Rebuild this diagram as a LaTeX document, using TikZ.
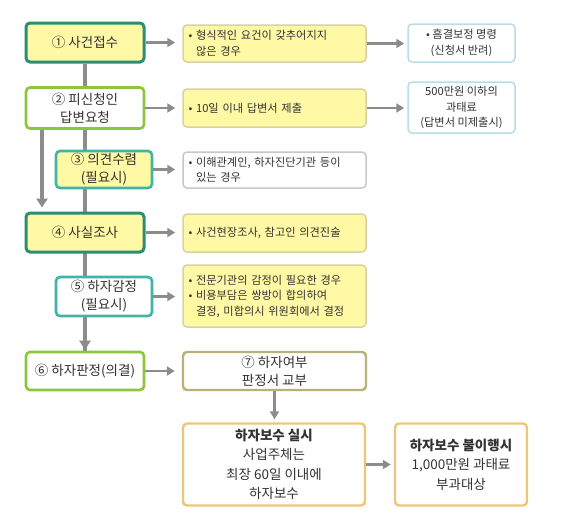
\documentclass[tikz,border=0pt]{standalone}
\usepackage{fontspec}
\setmainfont{Noto Sans CJK KR}
\usetikzlibrary{arrows.meta, backgrounds}
\definecolor{tealdark}{HTML}{2A8F72}
\definecolor{greenlime}{HTML}{8CC63E}
\definecolor{tealcyan}{HTML}{3FB5A8}
\definecolor{yellowfill}{HTML}{FFF8A4}
\definecolor{khakiline}{HTML}{D6D2A4}
\definecolor{greyline}{HTML}{C8C8C8}
\definecolor{blueline}{HTML}{B9DDE8}
\definecolor{oliveline}{HTML}{B8B27A}
\definecolor{goldline}{HTML}{EBC777}
\definecolor{arrowgrey}{HTML}{8C8C8C}
\definecolor{textgrey}{HTML}{333333}
\newcommand{\bulletgap}{\hphantom{•~}}

\begin{document}
\begin{tikzpicture}[x=1pt, y=-1pt,
  box/.style={draw, rounded corners=4pt, align=center, text=textgrey, inner sep=2pt,
    font=\fontsize{13.5}{18}\selectfont},
  mainsize/.style={minimum width=118pt, minimum height=39pt},
  subsize/.style={minimum width=96pt, minimum height=37pt},
  stepA/.style={box, mainsize, draw=tealdark, line width=3pt, fill=yellowfill},
  stepB/.style={box, mainsize, draw=greenlime, line width=2.6pt, fill=white},
  stepC/.style={box, subsize, draw=tealcyan, line width=2.6pt, fill=yellowfill},
  stepD/.style={box, subsize, draw=tealcyan, line width=2.6pt, fill=white},
  result/.style={box, draw=goldline, line width=2.4pt, fill=white, minimum height=82pt,
    font=\fontsize{13.5}{19.5}\selectfont},
  note/.style={draw=khakiline, line width=1.5pt, fill=yellowfill, rounded corners=4pt,
    text width=172pt, inner xsep=5.5pt, inner ysep=3pt, align=left, minimum height=37pt,
    text=textgrey, font=\fontsize{11.2}{15.5}\selectfont},
  info/.style={draw=blueline, line width=1.5pt, fill=white, rounded corners=4pt,
    minimum width=107pt, align=center, inner sep=2pt,
    text=textgrey, font=\fontsize{11.2}{15.5}\selectfont},
  flow/.style={arrowgrey, line width=2.5pt, shorten >=7pt, -{Triangle[length=8pt,width=9pt]}},
  spine/.style={arrowgrey, line width=3.5pt}
]
  \useasboundingbox (0,0) rectangle (583,522);
  % Procedure steps
  \node[stepA] (s1) at (85,42.5) {① 사건접수};
  \node[stepB, minimum height=41pt] (s2) at (85,108) {② 피신청인\\답변요청};
  \node[stepC] (s3) at (104,169.5) {③ 의견수렴\\(필요시)};
  \node[stepA] (s4) at (85,232.5) {④ 사실조사};
  \node[stepD, minimum height=39pt] (s5) at (104,296.5) {⑤ 하자감정\\(필요시)};
  \node[stepB, minimum height=38pt] (s6) at (85,371) {⑥ 하자판정(의결)};
  \node[box, draw=oliveline, line width=2.4pt, minimum width=183pt, minimum height=38pt]
    (s7) at (274.5,371) {⑦ 하자여부\\판정서 교부};
  \node[result, minimum width=182pt] (s8) at (274,464.5)
    {\textbf{하자보수 실시}\\사업주체는\\최장 60일 이내에\\하자보수};
  \node[result, minimum width=132pt] (s9) at (461,464.5)
    {\textbf{하자보수 불이행시}\\1,000만원 과태료\\부과대상};
  % Notes
  \node[note] (n1) at (274.5,43.5) {• 형식적인 요건이 갖추어지지\\\bulletgap 않은 경우};
  \node[note, minimum height=38pt] (n2) at (274.5,108) {• 10일 이내 답변서 제출};
  \node[note, draw=greyline, fill=white, minimum height=36pt] (n3) at (274.5,170)
    {• 이해관계인, 하자진단기관 등이\\\bulletgap 있는 경우};
  \node[note, minimum height=38pt] (n4) at (274.5,233) {• 사건현장조사, 참고인 의견진술};
  \node[note, minimum height=62pt] (n5) at (274.5,296)
    {• 전문기관의 감정이 필요한 경우\\• 비용부담은 쌍방이 합의하여\\\bulletgap 결정, 미합의시 위원회에서 결정};
  \node[info, minimum height=38pt] (f1) at (461.5,43) {• 흠결보정 명령\\(신청서 반려)};
  \node[info, minimum height=51pt] (f2) at (461.5,107.5) {500만원 이하의\\과태료\\(답변서 미제출시)};
  % Main line and bypass
  \coordinate (b1) at ([xshift=-43pt]s2.south);
  \coordinate (b2) at ([xshift=-43pt]s4.north);
  \begin{scope}[on background layer]
    \draw[spine] (s1.south) -- (s6.north);
    \draw[spine, shorten >=1pt, -{Triangle[length=9pt,width=11pt]}] (s5.south -| s1.south) -- (s6.north);
    \draw[spine, shorten >=4pt, -{Triangle[length=9pt,width=11pt]}] (b1) -- (b2);
  \end{scope}
  % Arrows to the right
  \draw[flow] (s1.east) -- (s1.east -| n1.west);
  \draw[flow] (s2.east) -- (s2.east -| n2.west);
  \draw[flow] (s3.east) -- (s3.east -| n3.west);
  \draw[flow] (s4.east) -- (s4.east -| n4.west);
  \draw[flow] (s5.east) -- (s5.east -| n5.west);
  \draw[flow] (s6.east) -- (s6.east -| s7.west);
  \draw[flow, shorten >=3pt] (n1.east) -- (n1.east -| f1.west);
  \draw[flow, shorten >=3pt] (n2.east) -- (n2.east -| f2.west);
  \draw[flow, shorten >=3pt] (s7.south) -- (s7.south |- s8.north);
  \draw[flow, shorten >=3pt] (s8.east) -- (s8.east -| s9.west);
\end{tikzpicture}
\end{document}
